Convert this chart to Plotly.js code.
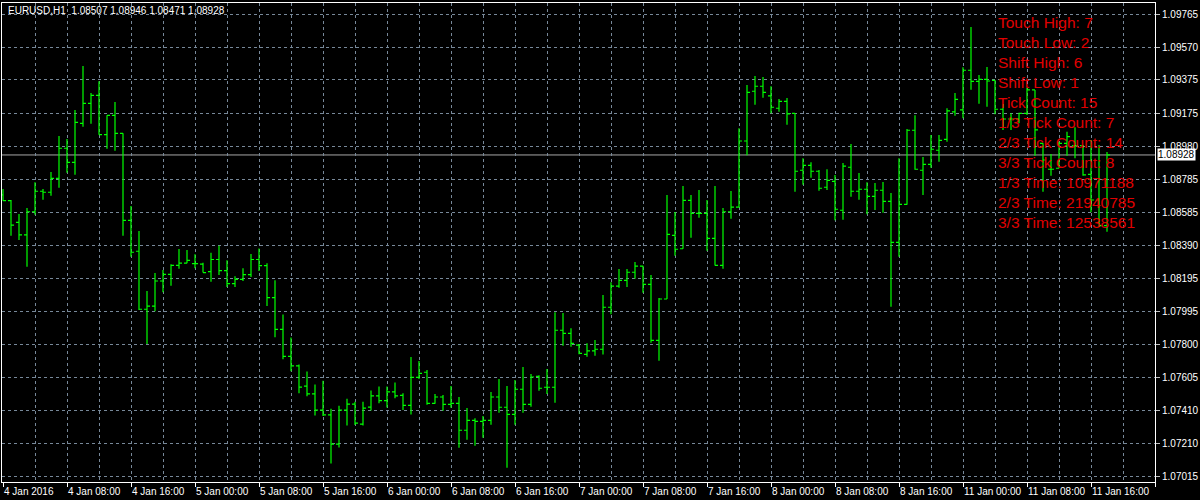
<!DOCTYPE html>
<html>
<head>
<meta charset="utf-8">
<script src="https://cdn.plot.ly/plotly-3.0.1.min.js"></script>
<style>html,body{margin:0;padding:0;background:#000;}#chart{width:1200px;height:500px;}</style>
</head>
<body>
<div id="chart"></div>
<script>
// EURUSD H1 bars, 4 Jan 2016 00:00 onward (hourly, weekend skipped)
const open = [1.08690,1.08656,1.08527,1.08452,1.08590,1.08712,1.08706,1.08789,1.08968,1.08884,
1.09116,1.09235,1.09283,1.09049,1.09164,1.09057,1.08539,1.08355,1.08010,1.08028,
1.08178,1.08218,1.08271,1.08285,1.08281,1.08278,1.08234,1.08306,1.08240,1.08163,
1.08188,1.08216,1.08306,1.08270,1.08079,1.07890,1.07729,1.07673,1.07553,1.07506,
1.07410,1.07381,1.07208,1.07410,1.07446,1.07327,1.07428,1.07494,1.07466,1.07518,
1.07498,1.07438,1.07605,1.07635,1.07450,1.07488,1.07444,1.07450,1.07290,1.07349,
1.07343,1.07349,1.07488,1.07427,1.07385,1.07534,1.07444,1.07611,1.07546,1.07546,
1.07885,1.07867,1.07797,1.07742,1.07762,1.07772,1.08022,1.08147,1.08182,1.08230,
1.08266,1.08158,1.07825,1.08071,1.08450,1.08370,1.08658,1.08581,1.08581,1.08432,
1.08271,1.08590,1.08618,1.09011,1.09307,1.09337,1.09279,1.09206,1.09247,1.09176,
1.08837,1.08866,1.08831,1.08736,1.08771,1.08599,1.08855,1.08712,1.08724,1.08682,
1.08718,1.08652,1.08408,1.08634,1.09075,1.08837,1.08872,1.08956,1.09021,1.09184,
1.09196,1.09432,1.09366,1.09378,1.09372,1.09200,1.09142,1.09142,1.09176,1.09315,
1.08997,1.08843,1.08849,1.08997,1.08983,1.08983,1.08813,1.08660,1.08507];

const high = [1.08725,1.08660,1.08577,1.08612,1.08765,1.08725,1.08827,1.09041,1.09023,1.09196,
1.09457,1.09297,1.09366,1.09164,1.09243,1.09057,1.08624,1.08476,1.08119,1.08226,
1.08244,1.08277,1.08368,1.08363,1.08337,1.08286,1.08346,1.08388,1.08302,1.08206,
1.08254,1.08338,1.08371,1.08284,1.08182,1.07979,1.07842,1.07681,1.07639,1.07562,
1.07584,1.07418,1.07436,1.07478,1.07460,1.07460,1.07526,1.07550,1.07550,1.07574,
1.07510,1.07726,1.07702,1.07649,1.07506,1.07500,1.07553,1.07488,1.07422,1.07361,
1.07375,1.07518,1.07595,1.07553,1.07589,1.07666,1.07625,1.07617,1.07654,1.07992,
1.07988,1.07897,1.07803,1.07807,1.07827,1.08095,1.08170,1.08250,1.08250,1.08291,
1.08269,1.08214,1.08077,1.08690,1.08589,1.08743,1.08690,1.08720,1.08660,1.08743,
1.08612,1.08714,1.09087,1.09344,1.09398,1.09392,1.09337,1.09261,1.09267,1.09176,
1.08908,1.08884,1.08839,1.08843,1.08809,1.08880,1.08993,1.08821,1.08765,1.08761,
1.08767,1.08702,1.08908,1.09082,1.09164,1.08916,1.09047,1.09047,1.09206,1.09297,
1.09450,1.09689,1.09404,1.09451,1.09374,1.09231,1.09176,1.09179,1.09331,1.09315,
1.08997,1.08934,1.09007,1.09066,1.09093,1.08987,1.09017,1.08987,1.08946];

const low = [1.08656,1.08448,1.08422,1.08263,1.08573,1.08662,1.08686,1.08733,1.08822,1.08811,
1.09096,1.09114,1.09049,1.08965,1.08953,1.08448,1.08323,1.08006,1.07803,1.07998,
1.08111,1.08150,1.08251,1.08283,1.08254,1.08228,1.08173,1.08214,1.08142,1.08142,
1.08178,1.08202,1.08238,1.08029,1.07844,1.07713,1.07641,1.07510,1.07492,1.07378,
1.07375,1.07092,1.07187,1.07319,1.07321,1.07319,1.07408,1.07450,1.07426,1.07480,
1.07410,1.07383,1.07595,1.07442,1.07448,1.07406,1.07424,1.07186,1.07234,1.07198,
1.07246,1.07323,1.07394,1.07067,1.07323,1.07394,1.07430,1.07525,1.07506,1.07454,
1.07793,1.07787,1.07742,1.07728,1.07734,1.07740,1.07980,1.08138,1.08142,1.08192,
1.08108,1.07811,1.07704,1.08071,1.08329,1.08370,1.08436,1.08555,1.08358,1.08271,
1.08251,1.08549,1.08614,1.08926,1.09227,1.09269,1.09176,1.09185,1.09108,1.08709,
1.08751,1.08793,1.08715,1.08720,1.08539,1.08543,1.08680,1.08662,1.08575,1.08600,
1.08584,1.08025,1.08323,1.08632,1.08840,1.08690,1.08852,1.08888,1.09007,1.09162,
1.09146,1.09316,1.09233,1.09215,1.09170,1.09077,1.09077,1.09116,1.09166,1.08924,
1.08709,1.08805,1.08849,1.08924,1.08908,1.08805,1.08587,1.08501,1.08471];

const close = [1.08656,1.08511,1.08452,1.08590,1.08712,1.08706,1.08789,1.08968,1.08884,1.09122,
1.09235,1.09283,1.09049,1.09164,1.09057,1.08539,1.08349,1.08010,1.08028,1.08178,
1.08218,1.08271,1.08285,1.08301,1.08281,1.08228,1.08306,1.08240,1.08163,1.08188,
1.08216,1.08306,1.08270,1.08079,1.07890,1.07729,1.07673,1.07547,1.07506,1.07410,
1.07381,1.07208,1.07410,1.07446,1.07333,1.07422,1.07494,1.07466,1.07518,1.07494,
1.07438,1.07605,1.07629,1.07450,1.07488,1.07444,1.07450,1.07290,1.07349,1.07343,
1.07349,1.07488,1.07427,1.07385,1.07534,1.07444,1.07607,1.07540,1.07546,1.07885,
1.07867,1.07807,1.07748,1.07762,1.07772,1.08022,1.08147,1.08182,1.08230,1.08266,
1.08158,1.07825,1.08071,1.08456,1.08367,1.08658,1.08581,1.08581,1.08432,1.08271,
1.08590,1.08618,1.09011,1.09301,1.09337,1.09301,1.09212,1.09247,1.09172,1.08831,
1.08866,1.08831,1.08730,1.08777,1.08605,1.08861,1.08712,1.08724,1.08682,1.08718,
1.08652,1.08408,1.08634,1.09075,1.08843,1.08872,1.08962,1.09015,1.09190,1.09259,
1.09432,1.09366,1.09378,1.09368,1.09200,1.09142,1.09142,1.09176,1.09315,1.09077,
1.08898,1.08843,1.08997,1.09037,1.08983,1.08809,1.08660,1.08507,1.08928];

const timeLabels = ["4 Jan 2016","4 Jan 08:00","4 Jan 16:00","5 Jan 00:00","5 Jan 08:00","5 Jan 16:00",
"6 Jan 00:00","6 Jan 08:00","6 Jan 16:00","7 Jan 00:00","7 Jan 08:00","7 Jan 16:00",
"8 Jan 00:00","8 Jan 08:00","8 Jan 16:00","11 Jan 00:00","11 Jan 08:00","11 Jan 16:00"];
const barsPerLabel = 8;

const priceLabels = ["1.09765","1.09570","1.09375","1.09175","1.08980","1.08785","1.08585","1.08390",
"1.08195","1.07995","1.07800","1.07605","1.07410","1.07210","1.07015"];

const symbolName = "EURUSD,H1";
const infoLines = ["Touch High: 7","Touch Low: 2","Shift High: 6","Shift Low: 1","Tick Count: 15",
"1/3 Tick Count: 7","2/3 Tick Count: 14","3/3 Tick Count: 8","1/3 Time: 10971188",
"2/3 Time: 21940785","3/3 Time: 12538561"];

// ---- build ----
const idx = open.map((_, i) => i);
const last = open.length - 1;
const FONT = "Liberation Sans, Arial, sans-serif";
const GRID = "#778899";
const BAR = "#00ff00";

const trace = {
  type: "ohlc", x: idx, open: open, high: high, low: low, close: close,
  increasing: {line: {color: BAR, width: 1.2}},
  decreasing: {line: {color: BAR, width: 1.2}},
  tickwidth: 0.38, hoverinfo: "skip", showlegend: false
};

const plotL = 2, plotR = 45, plotT = 3, plotB = 18;
const plotW = 1200 - plotL - plotR, plotH = 500 - plotT - plotB;
const pxX = px => (px - plotL) / plotW;
const pxY = py => (500 - plotB - py) / plotH;
const xMin = -0.125;

const annotations = [];
timeLabels.forEach((t, k) => {
  annotations.push({x: k * barsPerLabel, xref: "x", y: pxY(484), yref: "paper",
    xanchor: "left", yanchor: "top", xshift: -1, showarrow: false, text: t,
    font: {family: FONT, size: 10, color: "#ffffff"}});
});
annotations.push({x: pxX(6), xref: "paper", y: pxY(11), yref: "paper", xanchor: "left",
  yanchor: "middle", showarrow: false,
  text: symbolName + "&nbsp; " + [open[last], high[last], low[last], close[last]].map(v => v.toFixed(5)).join(" "),
  font: {family: FONT, size: 10, color: "#ffffff"}});
infoLines.forEach((t, k) => {
  annotations.push({x: pxX(996), xref: "paper", y: pxY(22.3 + 20 * k), yref: "paper",
    xanchor: "left", yanchor: "middle", showarrow: false, text: t,
    font: {family: FONT, size: 15.5, color: "#e00000"}});
});
annotations.push({x: 1, xref: "paper", xanchor: "left", xshift: 2, y: close[last], yref: "y",
  yanchor: "middle", showarrow: false, text: close[last].toFixed(5), bgcolor: "#ffffff",
  borderpad: 0, font: {family: FONT, size: 10, color: "#000000"}});

const layout = {
  width: 1200, height: 500, paper_bgcolor: "#000000", plot_bgcolor: "#000000",
  margin: {l: plotL, r: plotR, t: plotT, b: plotB, pad: 0}, showlegend: false,
  xaxis: {
    range: [xMin, xMin + plotW / 8], tickmode: "linear", tick0: 0, dtick: barsPerLabel,
    showticklabels: false, ticks: "outside", ticklen: 4, tickcolor: "#ffffff",
    showgrid: true, gridcolor: GRID, griddash: "3px,3px", gridwidth: 1,
    minor: {tick0: 0, dtick: barsPerLabel / 2, showgrid: true, gridcolor: GRID, griddash: "3px,3px", gridwidth: 1},
    showline: true, linecolor: "#ffffff", linewidth: 1, mirror: true, zeroline: false,
    rangeslider: {visible: false}, fixedrange: true
  },
  yaxis: {
    side: "right", range: [1.069821, 1.098322], tickmode: "array",
    tickvals: priceLabels.map(Number), ticktext: priceLabels,
    ticks: "outside", ticklen: 4, tickcolor: "#c0c0c0",
    tickfont: {family: FONT, size: 10, color: "#ffffff"},
    showgrid: true, gridcolor: GRID, griddash: "3px,3px", gridwidth: 1,
    showline: true, linecolor: "#ffffff", linewidth: 1, mirror: true, zeroline: false, fixedrange: true
  },
  shapes: [{type: "line", xref: "paper", x0: 0, x1: 1, yref: "y", y0: close[last], y1: close[last],
    line: {color: "#a8a8a8", width: 1}, layer: "between"}],
  annotations: annotations
};

Plotly.newPlot("chart", [trace], layout, {staticPlot: true, displayModeBar: false});
</script>
</body>
</html>
